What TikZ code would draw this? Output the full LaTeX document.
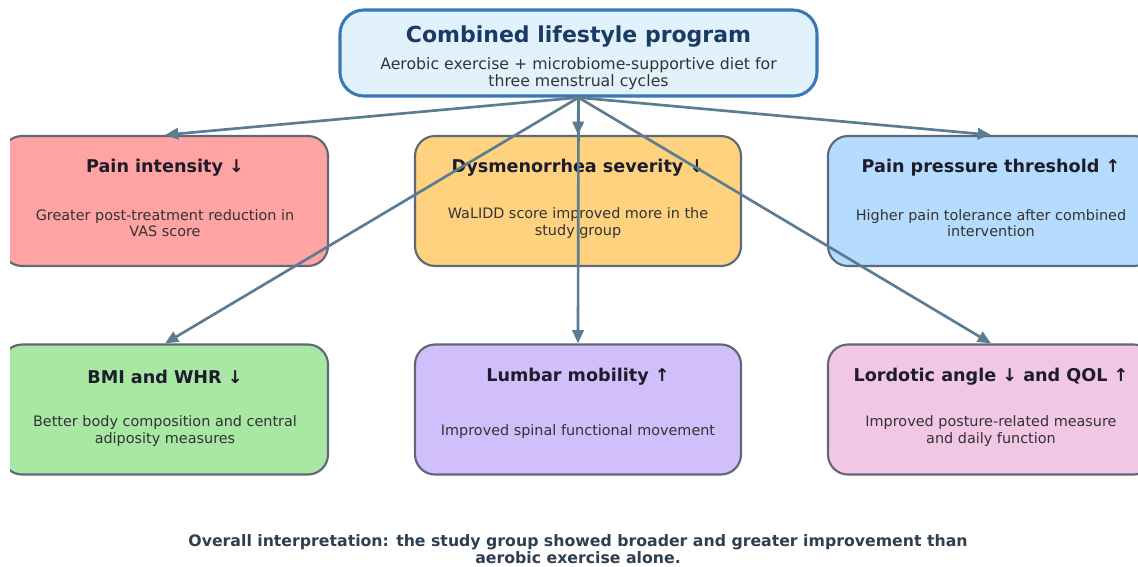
\documentclass[tikz,border=0pt]{standalone}
\usepackage{fontspec}
\setmainfont{DejaVu Sans}
\usetikzlibrary{positioning}
\usetikzlibrary{arrows.meta}
\usepackage{xcolor}

\definecolor{topfill}{HTML}{E1F2FD}
\definecolor{topline}{HTML}{3B77B3}
\definecolor{topink}{HTML}{1B3A63}
\definecolor{cardline}{HTML}{5E6878}
\definecolor{cardink}{HTML}{1C1C2B}
\definecolor{bodyink}{HTML}{333333}
\definecolor{linkcol}{HTML}{5C7C92}
\definecolor{notecol}{HTML}{2C3E50}
\definecolor{redfill}{HTML}{FFA3A3}
\definecolor{orangefill}{HTML}{FFD27F}
\definecolor{bluefill}{HTML}{B5DBFE}
\definecolor{greenfill}{HTML}{A9E7A5}
\definecolor{violetfill}{HTML}{D1BFFC}
\definecolor{pinkfill}{HTML}{F2C6E5}

\begin{document}
\begin{tikzpicture}[x=0.75pt, y=-0.75pt,
    card/.style={draw=cardline, line width=1.6pt, rounded corners=15pt,
        minimum width=244.5pt, minimum height=97.5pt},
    cardtitle/.style={font=\bfseries\fontsize{13.2}{15}\selectfont, text=cardink},
    cardbody/.style={font=\fontsize{10.8}{12.4}\selectfont, text=bodyink, align=center},
    link/.style={draw=linkcol, line width=2pt, -{Triangle[length=10pt,width=8.5pt]}}]
\useasboundingbox (0,0) rectangle (1138,567);

\begin{scope}
\clip (10,0) rectangle (1138,567);
% Program box
\node[draw=topline, fill=topfill, line width=2.3pt, rounded corners=18pt,
    minimum width=357.75pt, minimum height=64.5pt] (program) at (578.5,53) {};
\node[font=\bfseries\fontsize{16.5}{19}\selectfont, text=topink] (progtitle) at (578.5,37) {Combined lifestyle program};
\node[font=\fontsize{11.8}{12.9}\selectfont, text=bodyink, align=center] (progtext) at (578.5,74)
    {Aerobic exercise + microbiome-supportive diet for\\three menstrual cycles};

% Outcome boxes, first row
\node[card, fill=redfill] (pain) at (165,201) {};
\node[card, fill=orangefill] (dysm) at (578,201) {};
\node[card, fill=bluefill] (ppt) at (991,201) {};
% second row
\node[card, fill=greenfill] (bmi) at (165,409.5) {};
\node[card, fill=violetfill] (lumbar) at (578,409.5) {};
\node[card, fill=pinkfill] (lord) at (991,409.5) {};

\node[cardtitle] at (165,168) {Pain intensity ↓};
\node[cardbody] at (165,223) {Greater post-treatment reduction in\\VAS score};
\node[cardtitle] at (578,168) {Dysmenorrhea severity ↓};
\node[cardbody] at (578,223) {WaLIDD score improved more in the\\study group};
\node[cardtitle] at (991,168) {Pain pressure threshold ↑};
\node[cardbody] at (991,223) {Higher pain tolerance after combined\\intervention};

\node[cardtitle] at (165,377) {BMI and WHR ↓};
\node[cardbody] at (165,431) {Better body composition and central\\adiposity measures};
\node[cardtitle] at (578,377) {Lumbar mobility ↑};
\node[cardbody] at (578,432) {Improved spinal functional movement};
\node[cardtitle] at (991,377) {Lordotic angle ↓ and QOL ↑};
\node[cardbody] at (991,431) {Improved posture-related measure\\and daily function};

% Links
\draw[link] (program.south) -- (pain.north);
\draw[link] (program.south) -- (dysm.north);
\draw[link] (program.south) -- (ppt.north);
\draw[link] (program.south) -- (bmi.north);
\draw[link] (program.south) -- (lumbar.north);
\draw[link] (program.south) -- (lord.north);
\end{scope}

\node[font=\bfseries\fontsize{11.8}{12.9}\selectfont, text=notecol, align=center] (note) at (578,549)
    {Overall interpretation: the study group showed broader and greater improvement than\\aerobic exercise alone.};
\end{tikzpicture}
\end{document}
